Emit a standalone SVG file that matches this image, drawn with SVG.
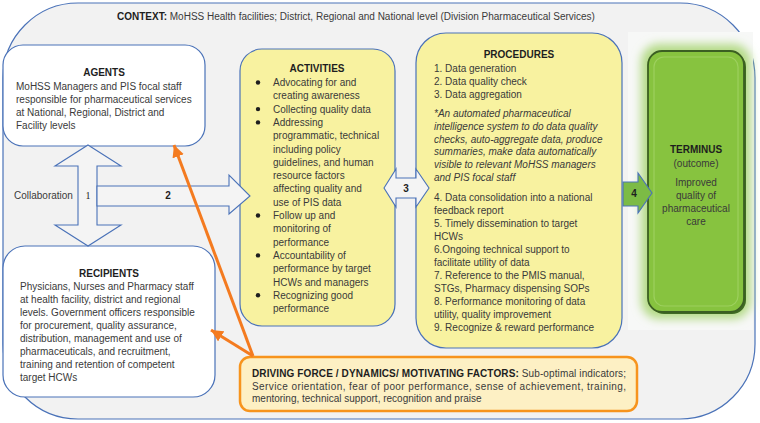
<svg xmlns="http://www.w3.org/2000/svg" width="760" height="423" viewBox="0 0 760 423">
<defs>
<style>
text{font-family:"Liberation Sans",Arial,sans-serif;font-size:10px;fill:#3a3a3a}
.t{font-weight:bold;fill:#1e1e1e}
.b{font-weight:bold;fill:#1e1e1e}
.box{stroke:#4a72b8;stroke-width:1.2}
.arr{fill:#f4f4f4;stroke:#4a72b8;stroke-width:1.1}
.or{stroke:#f47b20;stroke-width:3;fill:none}
</style>
<filter id="glow" x="-30%" y="-30%" width="160%" height="160%"><feGaussianBlur stdDeviation="5"/></filter>
<marker id="oh" markerUnits="userSpaceOnUse" markerWidth="14" markerHeight="12" refX="12" refY="6" orient="auto"><path d="M0,0 L12,6 L0,12 Z" fill="#f47b20"/></marker>
</defs>

<g id="context">
<rect x="3" y="3" width="752" height="416" rx="75" fill="#f2f2f2" class="box"/>
<rect x="628" y="32" width="125" height="298" fill="#f7f8f7"/>
<text x="117" y="20"><tspan class="b">CONTEXT:</tspan> MoHSS Health facilities; District, Regional and National level (Division Pharmaceutical Services)</text>
</g>

<g id="agents">
<rect x="3" y="45" width="202" height="101" rx="20" fill="#ffffff" class="box"/>
<text x="104" y="76" text-anchor="middle" class="t">AGENTS</text>
<text x="16" y="90">MoHSS Managers and PIS focal staff<tspan x="16" dy="13">responsible for pharmaceutical services</tspan><tspan x="16" dy="13">at National, Regional, District and</tspan><tspan x="16" dy="13">Facility levels</tspan></text>
</g>

<g id="recipients">
<rect x="3" y="246" width="212" height="151" rx="22" fill="#ffffff" class="box"/>
<text x="109" y="277" text-anchor="middle" class="t">RECIPIENTS</text>
<text x="20" y="290">Physicians, Nurses and Pharmacy staff<tspan x="20" dy="13">at health facility, district and regional</tspan><tspan x="20" dy="13">levels. Government officers responsible</tspan><tspan x="20" dy="13">for procurement, quality assurance,</tspan><tspan x="20" dy="13">distribution, management and use of</tspan><tspan x="20" dy="13">pharmaceuticals, and recruitment,</tspan><tspan x="20" dy="13">training and retention of competent</tspan><tspan x="20" dy="13">target HCWs</tspan></text>
</g>

<g id="activities">
<rect x="240" y="49" width="155" height="277" rx="22" fill="#f8f2a0" class="box"/>
<text x="317" y="72" text-anchor="middle" class="t">ACTIVITIES</text>
<g fill="#1e1e1e">
<circle cx="258" cy="82.5" r="2.2"/>
<circle cx="258" cy="109.1" r="2.2"/>
<circle cx="258" cy="122.4" r="2.2"/>
<circle cx="258" cy="215.5" r="2.2"/>
<circle cx="258" cy="255.4" r="2.2"/>
<circle cx="258" cy="295.3" r="2.2"/>
</g>
<text x="273" y="86">Advocating for and<tspan x="273" dy="13.3">creating awareness</tspan><tspan x="273" dy="13.3">Collecting quality data</tspan><tspan x="273" dy="13.3">Addressing</tspan><tspan x="273" dy="13.3">programmatic, technical</tspan><tspan x="273" dy="13.3">including policy</tspan><tspan x="273" dy="13.3">guidelines, and human</tspan><tspan x="273" dy="13.3">resource factors</tspan><tspan x="273" dy="13.3">affecting quality and</tspan><tspan x="273" dy="13.3">use of PIS data</tspan><tspan x="273" dy="13.3">Follow up and</tspan><tspan x="273" dy="13.3">monitoring of</tspan><tspan x="273" dy="13.3">performance</tspan><tspan x="273" dy="13.3">Accountability of</tspan><tspan x="273" dy="13.3">performance by target</tspan><tspan x="273" dy="13.3">HCWs and managers</tspan><tspan x="273" dy="13.3">Recognizing good</tspan><tspan x="273" dy="13.3">performance</tspan></text>
</g>

<g id="procedures">
<rect x="416" y="33" width="206" height="315" rx="30" fill="#f8f2a0" class="box"/>
<text x="519" y="58" text-anchor="middle" class="t">PROCEDURES</text>
<text x="434" y="72">1. Data generation<tspan x="434" dy="13">2. Data quality check</tspan><tspan x="434" dy="13">3. Data aggregation</tspan></text>
<text x="434" y="117" font-style="italic">*An automated pharmaceutical<tspan x="434" dy="12.8">intelligence system to do data quality</tspan><tspan x="434" dy="12.8">checks, auto-aggregate data, produce</tspan><tspan x="434" dy="12.8">summaries, make data automatically</tspan><tspan x="434" dy="12.8">visible to relevant MoHSS managers</tspan><tspan x="434" dy="12.8">and PIS focal staff</tspan></text>
<text x="434" y="201">4. Data consolidation into a national<tspan x="434" dy="13">feedback report</tspan><tspan x="434" dy="13">5. Timely dissemination to target</tspan><tspan x="434" dy="13">HCWs</tspan><tspan x="434" dy="13">6.Ongoing technical support to</tspan><tspan x="434" dy="13">facilitate utility of data</tspan><tspan x="434" dy="13">7. Reference to the PMIS manual,</tspan><tspan x="434" dy="13">STGs, Pharmacy dispensing SOPs</tspan><tspan x="434" dy="13">8. Performance monitoring of data</tspan><tspan x="434" dy="13">utility, quality improvement</tspan><tspan x="434" dy="13">9. Recognize &amp; reward performance</tspan></text>
</g>

<g id="terminus">
<rect x="641" y="44" width="110" height="275" rx="18" fill="#b4da86" filter="url(#glow)"/>
<rect x="650" y="53" width="96" height="261" rx="14" fill="#3f6a22"/>
<rect x="648" y="51" width="96" height="261" rx="14" fill="#87c33f" stroke="#3b5f22" stroke-width="1.8"/>
<rect x="654" y="57" width="84" height="249" rx="10" fill="none" stroke="#9dd05e" stroke-width="1.2"/>
<text x="696" y="153" text-anchor="middle" class="t">TERMINUS</text>
<text x="696" y="167" text-anchor="middle">(outcome)</text>
<text x="696" y="186" text-anchor="middle">Improved<tspan x="696" dy="13">quality of</tspan><tspan x="696" dy="13">pharmaceutical</tspan><tspan x="696" dy="13">care</tspan></text>
</g>

<g id="driving-force">
<rect x="240" y="357" width="397" height="54" rx="10" fill="#fdf0c4" stroke="#f7941d" stroke-width="2.5"/>
<text x="252" y="377" textLength="374" lengthAdjust="spacing"><tspan class="b">DRIVING FORCE / DYNAMICS/ MOTIVATING FACTORS:</tspan> Sub-optimal indicators;</text>
<text x="252" y="389.5" textLength="374" lengthAdjust="spacing">Service orientation, fear of poor performance, sense of achievement, training,</text>
<text x="252" y="401.5">mentoring, technical support, recognition and praise</text>
</g>

<g id="connectors">
<path class="arr" d="M88,145 L121,166 L97,166 L97,225 L121,225 L88,246 L55,225 L78,225 L78,166 L55,166 Z"/>
<text x="14" y="199">Collaboration</text>
<text x="88" y="199" text-anchor="middle" style="font-family:'Liberation Serif','Times New Roman',serif;fill:#1e1e1e">1</text>
<path class="arr" d="M97,186 L229,186 L229,175 L250,196 L229,214 L229,206 L97,206 Z"/>
<text x="168" y="199" text-anchor="middle" class="b">2</text>
<path class="arr" d="M384,188 L396,169 L396,178 L416,178 L416,169 L429,188 L416,207 L416,198 L396,198 L396,207 Z"/>
<text x="406" y="192" text-anchor="middle" class="b">3</text>
<path d="M623,182 L638,182 L638,173 L652,193 L638,213 L638,206 L623,206 Z" fill="#7cbb45" stroke="#4a72b8" stroke-width="1.1"/>
<text x="634" y="197" text-anchor="middle" class="b">4</text>
<line class="or" x1="253" y1="356" x2="174" y2="145" marker-end="url(#oh)"/>
<line class="or" x1="253" y1="356" x2="211" y2="330" marker-end="url(#oh)"/>
</g>
</svg>
